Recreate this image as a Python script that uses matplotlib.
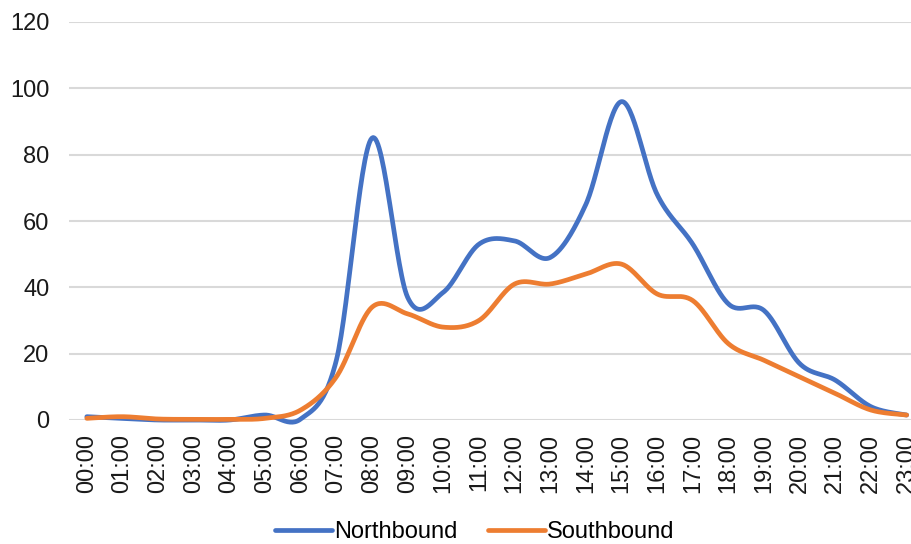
import numpy as np
import matplotlib.pyplot as plt

plt.rcParams['font.family'] = ['Liberation Sans', 'DejaVu Sans']

hours = ['%02d:00' % h for h in range(24)]
northbound = [1, 0.5, 0, 0, 0, 1.5, 0.3, 18, 85, 37, 38.5, 53, 54, 49,
              65, 96, 68, 53, 35, 33, 17, 12, 4, 1.5]
southbound = [0.5, 1, 0.3, 0.2, 0.2, 0.5, 3, 13, 34, 32, 28, 30, 41, 41,
              44, 47, 38, 36, 23, 18, 13, 8, 3, 1.5]


def smooth(y, steps=30):
    # Catmull-Rom style bezier through every point (like spreadsheet "smoothed line")
    y = np.asarray(y, dtype=float)
    x = np.arange(len(y), dtype=float)
    px = np.concatenate([[x[0]], x, [x[-1]]])
    py = np.concatenate([[y[0]], y, [y[-1]]])
    t = np.linspace(0, 1, steps, endpoint=False)
    xs, ys = [], []
    for i in range(1, len(px) - 2):
        p0 = np.array([px[i], py[i]])
        p3 = np.array([px[i + 1], py[i + 1]])
        b1 = p0 + (p3 - np.array([px[i - 1], py[i - 1]])) / 6
        b2 = p3 - (np.array([px[i + 2], py[i + 2]]) - p0) / 6
        pts = (np.outer((1 - t) ** 3, p0) + np.outer(3 * (1 - t) ** 2 * t, b1)
               + np.outer(3 * (1 - t) * t ** 2, b2) + np.outer(t ** 3, p3))
        xs.append(pts[:, 0])
        ys.append(pts[:, 1])
    xs.append([x[-1]])
    ys.append([y[-1]])
    return np.concatenate(xs), np.concatenate(ys)


fig = plt.figure(figsize=(9.12, 5.44), dpi=100)
ax = fig.add_axes([69 / 912, 1 - 420 / 544, 1 - 69 / 912, 398 / 544])

for vals, color, label in [(northbound, '#4472C4', 'Northbound'),
                           (southbound, '#ED7D31', 'Southbound')]:
    sx, sy = smooth(vals)
    ax.plot(sx, sy, color=color, lw=3.4, label=label,
            solid_capstyle='round', clip_on=False)

ax.set_xlim(-0.5, 23.15)
ax.set_ylim(0, 120)
ax.set_yticks(range(0, 121, 20))
ax.set_xticks(range(24))
ax.set_xticklabels(hours, rotation=90)
ax.tick_params(axis='both', length=0, labelsize=17, colors='#1a1a1a')
ax.tick_params(axis='y', pad=14)
ax.tick_params(axis='x', pad=10)
ax.grid(axis='y', color='#d9d9d9', lw=1.5)
ax.set_axisbelow(True)
for s in ax.spines.values():
    s.set_visible(False)

ax.legend(loc='center', bbox_to_anchor=(475 / 912, 12 / 544),
          bbox_transform=fig.transFigure, ncol=2, frameon=False,
          fontsize=17, handlelength=2.4, handletextpad=0.1,
          columnspacing=1.3)

fig.savefig('out.png', dpi=100)
